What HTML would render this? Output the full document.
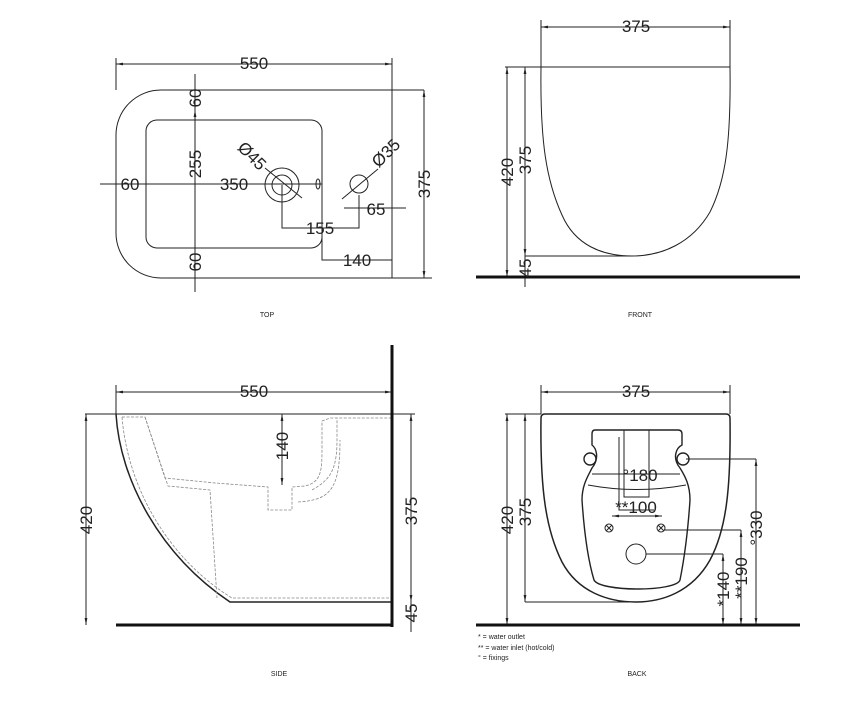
<!DOCTYPE html>
<html><head><meta charset="utf-8"><style>
html,body{margin:0;padding:0;background:#fff}
svg{display:block}
text{font-family:"Liberation Sans",sans-serif;fill:#222}
</style></head><body>
<svg width="850" height="704" viewBox="0 0 850 704" xmlns="http://www.w3.org/2000/svg">
<defs>
<marker id="a" viewBox="0 0 10 10" refX="10" refY="5" markerWidth="7" markerHeight="7" orient="auto-start-reverse"><path d="M0,3 L10,5 L0,7 z" fill="#222"/></marker>
</defs>
<g stroke="#222" stroke-width="1" fill="none">
<path d="M424,90 L161,90 A45,45 0 0 0 116,135 L116,233 A45,45 0 0 0 161,278 L392,278"/>
<line x1="392" y1="58" x2="392" y2="278"/>
<line x1="116" y1="58" x2="116" y2="90"/>
<line x1="116" y1="64" x2="392" y2="64" marker-start="url(#a)" marker-end="url(#a)"/>
<line x1="392" y1="278" x2="432" y2="278"/>
<line x1="424" y1="90" x2="424" y2="278" marker-start="url(#a)" marker-end="url(#a)"/>
<rect x="146" y="120" width="176" height="128" rx="11"/>
<line x1="195" y1="74" x2="195" y2="292"/>
<path d="M195,82 L195,90 M195,120 L195,110" marker-end="url(#a)"/>
<line x1="100" y1="184" x2="322" y2="184"/>
<circle cx="282" cy="185" r="17"/><circle cx="282" cy="185" r="10"/>
<ellipse cx="318" cy="184" rx="2" ry="5"/>
<line x1="265" y1="168" x2="302" y2="198"/>
<circle cx="359" cy="184" r="9"/>
<line x1="342" y1="199" x2="378" y2="169"/>
<path d="M282,185 L282,228 L359,228 L359,195"/>
<line x1="344" y1="208" x2="406" y2="208"/>
<path d="M322,184 L322,260 L392,260"/>
<line x1="541" y1="27" x2="730" y2="27" marker-start="url(#a)" marker-end="url(#a)"/>
<line x1="541" y1="20" x2="541" y2="67"/><line x1="730" y1="20" x2="730" y2="67"/>
<path d="M541,67 L730,67 C731,140 726,180 710,212 C692,243 662,256 632,256 C602,256 575,245 562,215 C546,180 540,140 541,67 Z"/>
<line x1="505" y1="67" x2="541" y2="67"/>
<line x1="507" y1="67" x2="507" y2="277" marker-start="url(#a)" marker-end="url(#a)"/>
<line x1="525" y1="67" x2="525" y2="256" marker-start="url(#a)" marker-end="url(#a)"/>
<line x1="525" y1="256" x2="630" y2="256"/>
<line x1="525" y1="256" x2="525" y2="287"/>
<line x1="116" y1="392" x2="392" y2="392" marker-start="url(#a)" marker-end="url(#a)"/>
<line x1="116" y1="385" x2="116" y2="414"/>
<line x1="85" y1="414" x2="415" y2="414"/>
<path d="M116,414 C120,480 160,555 230,602 L392,602" stroke-width="1.5"/>
<line x1="86" y1="414" x2="86" y2="625" marker-start="url(#a)" marker-end="url(#a)"/>
<line x1="411" y1="414" x2="411" y2="602" marker-start="url(#a)" marker-end="url(#a)"/>
<line x1="411" y1="602" x2="411" y2="632"/>
<line x1="282" y1="414" x2="282" y2="485" marker-start="url(#a)" marker-end="url(#a)"/>
<g stroke="#888" stroke-dasharray="3,1.5" stroke-width="0.8">
<path d="M122,417 L145,417 L165,478 L215,483 L268,487 L268,510 L292,510 L292,487 L305,486 C322,482 322,470 322,445 L322,421 L330,418 L392,418"/>
<path d="M122,417 C128,490 170,560 232,598 L392,598"/>
<path d="M145,417 L168,486 L210,490 L217,598"/>
<path d="M312,490 C330,480 337,470 337,440 L337,418 M298,502 C330,500 340,490 340,440"/>
</g>
<line x1="541" y1="392" x2="730" y2="392" marker-start="url(#a)" marker-end="url(#a)"/>
<line x1="541" y1="385" x2="541" y2="414"/><line x1="730" y1="385" x2="730" y2="414"/>
<path d="M545,414 L726,414 Q730,414 730,418 C731,490 726,530 710,560 C692,592 662,602 636,602 C608,602 578,592 562,562 C546,530 540,490 541,418 Q541,414 545,414 Z" stroke-width="1.5"/>
<line x1="505" y1="414" x2="541" y2="414"/>
<line x1="507" y1="414" x2="507" y2="625" marker-start="url(#a)" marker-end="url(#a)"/>
<line x1="525" y1="414" x2="525" y2="602" marker-start="url(#a)" marker-end="url(#a)"/>
<line x1="525" y1="602" x2="630" y2="602"/>
<path d="M595,430 L678,430 Q682,430 682,434 L682,445 C676,448 672,458 680,468 C685,476 690,485 690,500 C688,530 684,560 680,580 C676,592 600,592 594,580 C588,560 584,530 582,500 C582,485 588,476 592,468 C600,458 596,448 592,445 L592,434 Q592,430 595,430 Z" stroke-width="1.4"/>
<circle cx="590" cy="459" r="6" stroke-width="1.4"/><circle cx="683" cy="459" r="6" stroke-width="1.4"/>
<path d="M588,485 Q636,494 686,485"/>
<path d="M624,430 L624,497 L649,497 L649,430 M619,437 L619,510 L654,510"/>
<line x1="612" y1="516" x2="662" y2="516" marker-start="url(#a)" marker-end="url(#a)"/>
<line x1="592" y1="474" x2="680" y2="474"/>
<circle cx="609" cy="528" r="4"/><path d="M606,525 L612,531 M612,525 L606,531"/>
<circle cx="661" cy="528" r="4"/><path d="M658,525 L664,531 M664,525 L658,531"/>
<circle cx="636" cy="554" r="10"/>
<path d="M686,459 L756,459 M664,530 L741,530 M646,554 L723,554"/>
<line x1="756" y1="459" x2="756" y2="625" marker-start="url(#a)" marker-end="url(#a)"/>
<line x1="741" y1="530" x2="741" y2="625" marker-start="url(#a)" marker-end="url(#a)"/>
<line x1="723" y1="554" x2="723" y2="625" marker-start="url(#a)" marker-end="url(#a)"/>
</g>
<g stroke="#111" stroke-width="3">
<line x1="476" y1="277" x2="800" y2="277"/>
<line x1="392" y1="345" x2="392" y2="627"/>
<line x1="116" y1="625" x2="392" y2="625"/>
<line x1="476" y1="625" x2="800" y2="625"/>
</g>
<g font-size="17">
<text x="254" y="69" text-anchor="middle">550</text>
<text transform="translate(201,98) rotate(-90)" text-anchor="middle">60</text>
<text transform="translate(201,164) rotate(-90)" text-anchor="middle">255</text>
<text transform="translate(201,262) rotate(-90)" text-anchor="middle">60</text>
<text x="130" y="190" text-anchor="middle">60</text>
<text x="234" y="190" text-anchor="middle">350</text>
<text transform="translate(248,160) rotate(45)" text-anchor="middle">Ø45</text>
<text transform="translate(390,157) rotate(-45)" text-anchor="middle">Ø35</text>
<text x="320" y="234" text-anchor="middle">155</text>
<text x="376" y="215" text-anchor="middle">65</text>
<text x="357" y="266" text-anchor="middle">140</text>
<text transform="translate(430,184) rotate(-90)" text-anchor="middle">375</text>
<text x="636" y="32" text-anchor="middle">375</text>
<text transform="translate(513,172) rotate(-90)" text-anchor="middle">420</text>
<text transform="translate(531,160) rotate(-90)" text-anchor="middle">375</text>
<text transform="translate(531,268) rotate(-90)" text-anchor="middle">45</text>
<text x="254" y="397" text-anchor="middle">550</text>
<text transform="translate(92,520) rotate(-90)" text-anchor="middle">420</text>
<text transform="translate(417,511) rotate(-90)" text-anchor="middle">375</text>
<text transform="translate(417,613) rotate(-90)" text-anchor="middle">45</text>
<text transform="translate(288,446) rotate(-90)" text-anchor="middle">140</text>
<text x="636" y="397" text-anchor="middle">375</text>
<text transform="translate(513,520) rotate(-90)" text-anchor="middle">420</text>
<text transform="translate(531,512) rotate(-90)" text-anchor="middle">375</text>
<text x="640" y="481" text-anchor="middle">°180</text>
<text x="636" y="513" text-anchor="middle">**100</text>
<text transform="translate(762,528) rotate(-90)" text-anchor="middle">°330</text>
<text transform="translate(747,578) rotate(-90)" text-anchor="middle">**190</text>
<text transform="translate(729,589) rotate(-90)" text-anchor="middle">*140</text>
</g>
<g font-size="7">
<text x="267" y="317" text-anchor="middle">TOP</text>
<text x="640" y="317" text-anchor="middle">FRONT</text>
<text x="279" y="676" text-anchor="middle">SIDE</text>
<text x="637" y="676" text-anchor="middle">BACK</text>
<text x="478" y="639">* = water outlet</text>
<text x="478" y="650">** = water inlet (hot/cold)</text>
<text x="478" y="660">° = fixings</text>
</g>
</svg>
</body></html>
